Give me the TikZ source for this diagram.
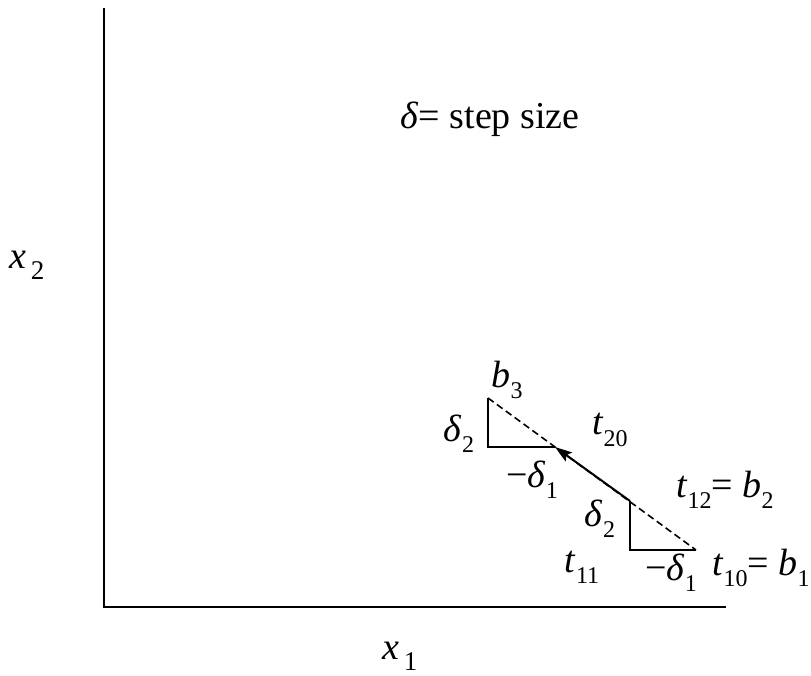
\documentclass[tikz,border=0pt]{standalone}
\usepackage{fontspec}
\setmainfont{Liberation Serif}
\usetikzlibrary{arrows.meta}
\newcommand{\ital}[1]{\textit{#1}}
\newcommand{\sbs}[1]{\raisebox{-0.3em}{\fontsize{24}{26}\selectfont #1}}
\newcommand{\axsub}[1]{\hspace{0.12em}\raisebox{-0.3em}{\fontsize{27}{30}\selectfont #1}}
\begin{document}
\begin{tikzpicture}[x=1pt,y=-1pt,
  lbl/.style={inner sep=0pt, font=\fontsize{38}{44}\selectfont},
  axisline/.style={line width=2.2pt},
  tri/.style={line width=1.8pt},
  dashline/.style={line width=1.6pt, dash pattern=on 7pt off 4pt},
  steparrow/.style={line width=2pt, -{Stealth[length=17pt,width=11pt,inset=3pt]}}]
\useasboundingbox (0,0) rectangle (811,676);
% axes
\coordinate (ytop) at (104,8);
\coordinate (O) at (104,607);
\coordinate (xend) at (726,607);
\draw[axisline] (ytop) -- (O) -- (xend);
% points
\coordinate (b1) at (696,550);
\coordinate (c1) at (630,550);
\coordinate (b2) at (630,501);
\coordinate (t20p) at (555,447);
\coordinate (c2) at (488,447);
\coordinate (b3) at (488,398);
\draw[tri] (b2) -- (c1) -- (b1);
\draw[tri] (b3) -- (c2) -- (t20p);
\draw[dashline] (b3) -- (b1);
\draw[steparrow] (b2) -- (t20p);
% labels
\node[lbl] (title) at (490,119) {\ital{δ}= step size};
\node[lbl] (x2) at (27,265) {\ital{x}\axsub{2}};
\node[lbl] (x1) at (400,656) {\ital{x}\axsub{1}};
\node[lbl] (lb3) at (507,380) {\ital{b}\sbs{3}};
\node[lbl] (ld2a) at (459,434) {\ital{δ}\sbs{2}};
\node[lbl] (lt20) at (610,430) {\ital{t}\sbs{20}};
\node[lbl] (ld1a) at (532,480) {−\ital{δ}\sbs{1}};
\node[lbl] (lt12) at (725,490) {\ital{t}\sbs{12}= \ital{b}\sbs{2}};
\node[lbl] (ld2b) at (600,519) {\ital{δ}\sbs{2}};
\node[lbl] (lt11) at (582,567) {\ital{t}\sbs{11}};
\node[lbl] (ld1b) at (671,573) {−\ital{δ}\sbs{1}};
\node[lbl] (lt10) at (761,568) {\ital{t}\sbs{10}= \ital{b}\sbs{1}};
\end{tikzpicture}
\end{document}
